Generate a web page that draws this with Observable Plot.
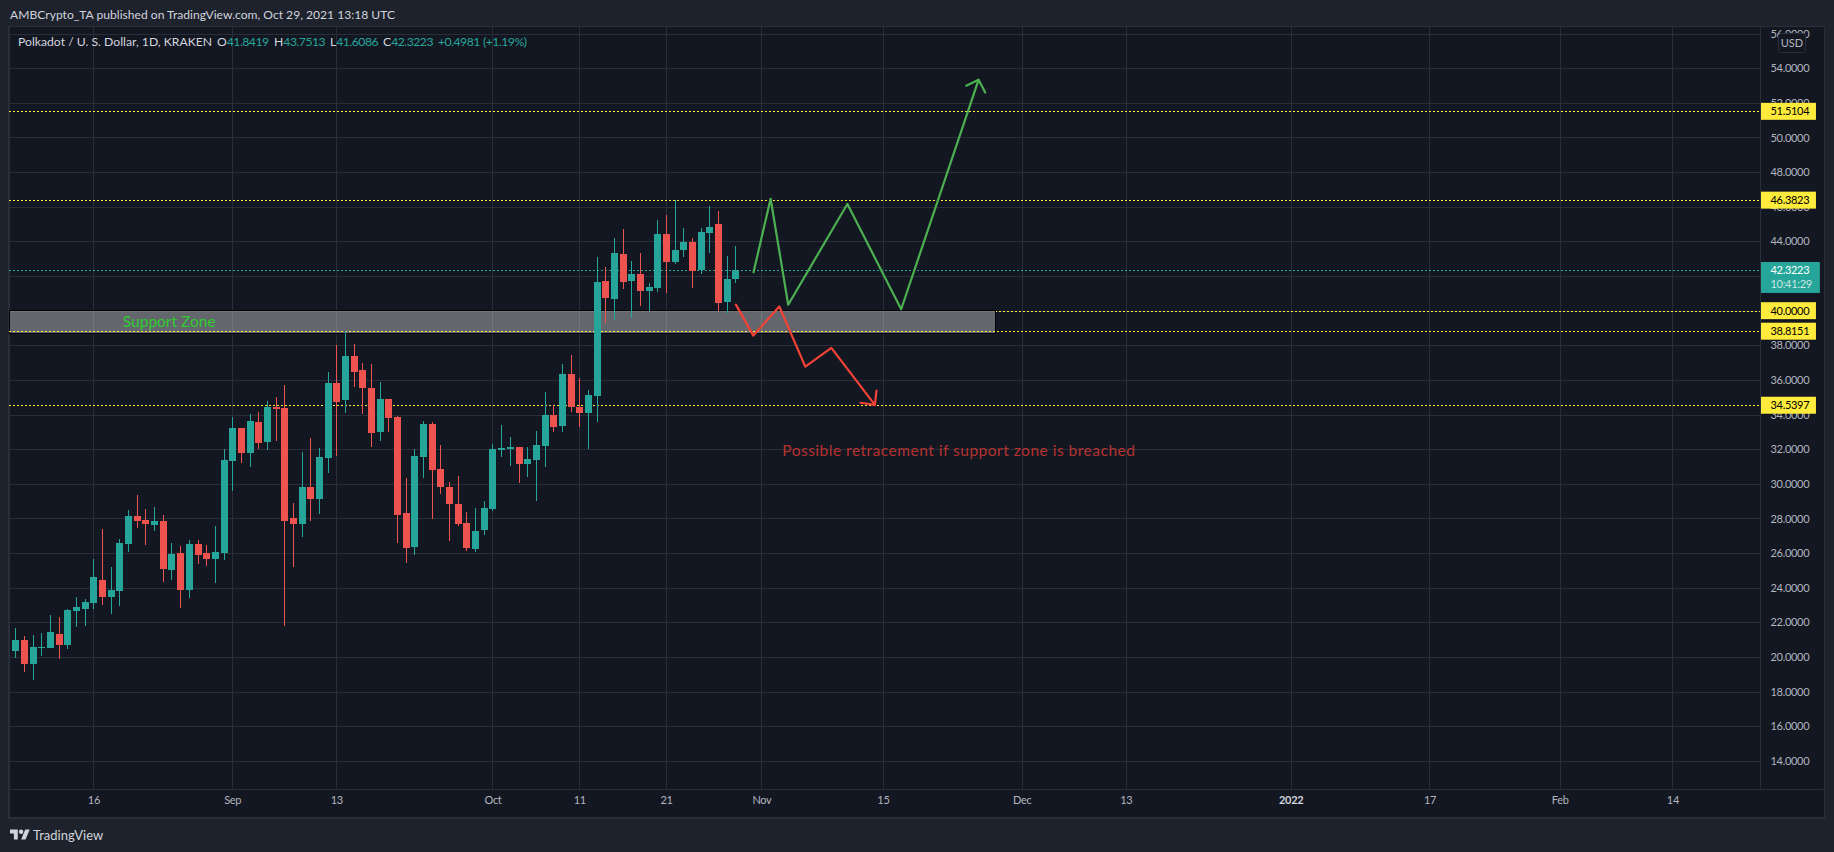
<!DOCTYPE html>
<html>
<head>
<meta charset="utf-8">
<script src="https://cdn.jsdelivr.net/npm/d3@7"></script>
<script src="https://cdn.jsdelivr.net/npm/@observablehq/plot@0.6"></script>
<style>
  html,body{margin:0;padding:0;background:#1e222d;overflow:hidden;width:1834px;height:852px;font-family:Lato,"Liberation Sans",sans-serif;}
  #panel{position:absolute;left:8px;top:26px;width:1814px;height:790px;background:#131722;border:1px solid #2a2e39;border-width:1px 1px 2px 2px;}
  #head{position:absolute;left:10px;top:0;height:26px;line-height:30px;font-size:12.1px;color:#d1d4dc;white-space:nowrap;}
  #chart{position:absolute;left:0;top:27px;}
  #legend{position:absolute;left:0;top:33px;height:18px;line-height:18px;font-size:12.2px;color:#d1d4dc;white-space:nowrap;}
  #legend span{position:absolute;top:0;}
  .up{color:#26a69a;letter-spacing:-0.5px;}
  #usd{position:absolute;left:1778px;top:33px;width:26px;height:18px;line-height:18px;text-align:center;font-size:11px;color:#b2b5be;background:#131722;border:1px solid #2a2e39;border-radius:3px;}
  #foot{position:absolute;left:10px;top:826px;height:18px;line-height:18px;color:#d1d4dc;font-size:13px;white-space:nowrap;}
  #foot svg{position:absolute;left:0;top:3px;}
  #foot b{position:absolute;left:23px;top:0;font-weight:400;}
</style>
</head>
<body>
<div id="panel"></div>
<div id="head">AMBCrypto_TA published on TradingView.com, Oct 29, 2021 13:18 UTC</div>
<div id="chart"></div>
<div id="legend">
  <span style="left:18px">Polkadot / U. S. Dollar, 1D, KRAKEN</span>
  <span style="left:217px">O<i class="up" style="font-style:normal">41.8419</i></span>
  <span style="left:274px">H<i class="up" style="font-style:normal">43.7513</i></span>
  <span style="left:330px">L<i class="up" style="font-style:normal">41.6086</i></span>
  <span style="left:383px">C<i class="up" style="font-style:normal">42.3223</i></span>
  <span class="up" style="left:438px">+0.4981</span>
  <span class="up" style="left:483px">(+1.19%)</span>
</div>
<div id="usd">USD</div>
<div id="foot">
  <svg width="20" height="11" viewBox="0 4 36 18"><path fill="#d1d4dc" d="M14 22H7V11H0V4h14v18zM28 22h-8l7.5-18h8L28 22z"/><circle fill="#d1d4dc" cx="20" cy="8" r="4"/></svg>
  <b>TradingView</b>
</div>
<script>
// Candles: day 0 = 16 Aug 2021, first candle 7 Aug, last candle 29 Oct
const opens  = [20.36,21.0,19.61,20.55,20.53,21.34,20.71,22.67,22.78,23.13,24.45,23.47,23.82,26.53,28.15,27.92,27.63,27.86,25.03,26.01,23.88,26.53,26.01,25.67,26.01,31.32,33.22,31.78,33.57,32.42,34.44,34.38,28.03,27.68,29.82,29.13,31.49,35.82,34.84,37.38,36.57,35.53,32.99,34.9,33.86,28.32,26.35,31.55,33.46,30.86,29.82,28.84,27.74,26.24,27.33,28.55,31.95,32.01,32.13,31.15,31.38,32.19,33.98,33.34,36.34,34.44,34.09,35.07,41.71,40.67,43.27,41.71,42.12,41.13,41.31,44.43,42.81,43.5,43.96,42.35,44.48,45.0,40.5,41.8419];
const highs  = [21.69,21.22,21.28,21.4,22.44,22.33,22.78,23.47,23.36,25.67,27.4,25.2,26.82,28.49,29.36,28.55,28.67,28.2,26.59,26.42,26.76,26.76,26.47,27.57,31.99,33.86,33.22,34.03,34.15,34.78,35.01,35.71,28.9,31.84,32.65,32.07,36.46,38.02,38.8,38.07,36.98,36.92,35.88,34.9,33.92,30.34,32.01,33.63,33.57,32.24,30.1,30.45,28.37,28.6,29.01,32.3,33.4,32.7,32.13,32.13,33.05,35.3,34.55,36.92,37.44,36.11,35.42,43.1,42.52,44.19,44.71,42.87,43.33,41.6,45.23,45.52,46.39,44.77,44.19,44.77,46.04,45.75,43.16,43.7513];
const lows   = [19.95,19.15,18.69,20.07,20.53,19.9,20.48,21.74,21.8,22.78,23.01,22.49,22.95,26.07,27.45,26.47,27.28,24.34,24.45,22.84,23.42,25.38,25.26,24.28,25.61,29.59,31.2,30.97,32.01,31.95,32.47,21.8,25.2,26.93,27.86,28.26,30.63,31.61,34.09,35.59,34.03,32.13,32.47,33.0,26.59,25.43,25.89,30.34,27.97,29.41,26.7,27.57,26.12,26.07,27.05,28.43,31.55,31.03,30.05,30.4,29.01,30.97,33.0,33.0,34.15,33.28,32.01,33.57,39.29,39.48,41.25,39.57,40.27,39.98,41.08,41.0,42.69,43.1,41.31,42.12,43.33,39.98,39.86,41.6086];
const closes = [21.0,19.61,20.6,20.6,21.46,20.71,22.72,22.9,23.19,24.63,23.47,23.88,26.59,28.15,27.86,27.69,27.86,25.09,25.95,23.88,26.53,25.9,25.67,26.07,31.38,33.22,31.78,33.63,32.36,34.42,34.32,27.86,27.68,29.82,29.13,31.55,35.82,34.73,37.38,36.46,35.53,32.94,34.9,33.8,28.2,26.3,31.61,33.46,30.8,29.82,28.84,27.68,26.3,27.28,28.6,32.01,32.07,32.13,31.15,31.44,32.24,33.98,33.28,36.34,34.44,34.09,35.13,41.65,40.73,43.33,41.65,42.12,41.13,41.37,44.43,42.81,43.5,43.96,42.29,44.54,44.83,40.44,41.83,42.3223];
const firstCandleDay = -9;

const priceTicks = [14,16,18,20,22,24,26,28,30,32,34,36,38,40,42,44,46,48,50,52,54,56];
const priceTickLabelsShown = [14,16,18,20,22,24,26,28,30,32,34,36,38,44,46,48,50,52,54,56];
const timeTickDays = [0,16,28,46,56,66,77,91,107,119,138,154,169,182];
const timeTickLabels = ["16","Sep","13","Oct","11","21","Nov","15","Dec","13","2022","17","Feb","14"];

const levelLabels = ["51.5104","46.3823","40.0000","38.8151","34.5397"];
const levels = levelLabels.map(Number);
const lastPrice = 42.3223;
const lastLabel = "42.3223";
const countdown = "10:41:29";

const zoneDayEnd = 103.96, zoneTop = 40, zoneBottom = 38.71;

const greenDays   = [76.03,78.0,80.03,86.85,93.05,101.97];
const greenPrices = [42.25,46.49,40.37,46.19,40.11,53.36];
const greenHeadDays   = [100.55,101.97,102.74];
const greenHeadPrices = [53.01,53.36,52.62];
const redDays   = [74.0,76.0,79.0,82.0,85.0,90.02];
const redPrices = [40.38,38.59,40.27,36.8,37.88,34.59];
const redHeadDays   = [88.37,90.02,90.21];
const redHeadPrices = [34.71,34.59,35.42];

const supportText = "Support Zone", supportDay = 3.33, supportPrice = 39.4;
const retraceText = "Possible retracement if support zone is breached", retraceDay = 79.34, retracePrice = 31.9;

const xStart = -9.73, xEnd = 192.1, yLow = 12.38, yHigh = 56.38;

const UP = "#26a69a", DOWN = "#ef5350", GRID = "#2a2e39", YEL = "#ffeb3b", AXIS = "#b2b5be";
const FONT = 'Lato, "Liberation Sans", sans-serif';
const DOTS = "2,2";
const CRISP = "crispEdges";

const candles = opens.map((o,i)=>({day:firstCandleDay+i,open:o,high:highs[i],low:lows[i],close:closes[i],color:closes[i]>=o?UP:DOWN}));
const path = (ds,ps)=>ds.map((d,i)=>({d,p:ps[i]}));
const labelWidth = 6.45;   // price-label width in days
const labelHalf = 0.49;    // price-label half height in price units

const chart = Plot.plot({
  width:1834, height:790,
  marginLeft:9, marginRight:74, marginTop:0, marginBottom:28,
  x:{type:"linear",domain:[xStart,xEnd],axis:null},
  y:{type:"linear",domain:[yLow,yHigh],axis:null},
  style:{background:"transparent",fontFamily:FONT,maxWidth:"none",letterSpacing:"-0.3px"},
  marks:[
    Plot.ruleY(priceTicks,{stroke:GRID,strokeWidth:1,shapeRendering:CRISP}),
    Plot.ruleX(timeTickDays,{stroke:GRID,strokeWidth:1,shapeRendering:CRISP}),
    Plot.ruleY(levels.filter(v=>v!==38.8151 && v!==40),{stroke:YEL,strokeWidth:1,strokeDasharray:DOTS,shapeRendering:CRISP}),
    Plot.ruleY([zoneTop],{x1:zoneDayEnd,x2:xEnd,stroke:YEL,strokeWidth:1,strokeDasharray:DOTS,shapeRendering:CRISP}),
    Plot.ruleY([lastPrice],{stroke:UP,strokeWidth:1,strokeDasharray:DOTS,shapeRendering:CRISP}),
    Plot.rect([{x1:xStart,x2:zoneDayEnd,y1:zoneBottom,y2:zoneTop}],{x1:"x1",x2:"x2",y1:"y1",y2:"y2",fill:"#ffffff",fillOpacity:0.34,stroke:"#000000",strokeWidth:1,shapeRendering:CRISP}),
    Plot.ruleY([38.8151],{stroke:YEL,strokeWidth:1,strokeDasharray:DOTS,shapeRendering:CRISP}),
    Plot.ruleX(candles,{x:"day",y1:"low",y2:"high",stroke:"color",strokeWidth:1,shapeRendering:CRISP}),
    Plot.ruleX(candles,{x:"day",y1:"open",y2:"close",stroke:"color",strokeWidth:7,shapeRendering:CRISP}),
    Plot.line(path(greenDays,greenPrices),{x:"d",y:"p",stroke:"#4caf50",strokeWidth:2.2,curve:"linear"}),
    Plot.line(path(greenHeadDays,greenHeadPrices),{x:"d",y:"p",stroke:"#4caf50",strokeWidth:2.2,curve:"linear"}),
    Plot.line(path(redDays,redPrices),{x:"d",y:"p",stroke:"#f44336",strokeWidth:2.2,curve:"linear"}),
    Plot.line(path(redHeadDays,redHeadPrices),{x:"d",y:"p",stroke:"#f44336",strokeWidth:2.2,curve:"linear"}),
    Plot.text([supportText],{x:()=>supportDay,y:()=>supportPrice,text:d=>d,textAnchor:"start",fill:"#2ecc2e",fontSize:15.5}),
    Plot.text([retraceText],{x:()=>retraceDay,y:()=>retracePrice,text:d=>d,textAnchor:"start",fill:"#b5322e",fontSize:15.5}),
    Plot.axisY(priceTickLabelsShown,{anchor:"right",tickSize:0,tickPadding:10,tickFormat:d=>d.toFixed(4),fill:AXIS,fontSize:11,label:null,textAnchor:"start"}),
    Plot.axisX(timeTickDays,{anchor:"bottom",tickSize:0,tickPadding:7,tickFormat:d=>timeTickLabels[timeTickDays.indexOf(d)],fill:AXIS,fontSize:11,label:null}),
    Plot.rect(levels,{x1:()=>xEnd,x2:()=>xEnd+labelWidth,y1:d=>d-labelHalf,y2:d=>d+labelHalf,fill:YEL}),
    Plot.rect([lastPrice],{x1:()=>xEnd,x2:()=>xEnd+labelWidth+0.45,y1:d=>d-labelHalf*2.65,y2:d=>d+labelHalf,fill:UP}),
    Plot.text(levelLabels,{x:()=>xEnd,y:d=>+d,dx:10,text:d=>d,textAnchor:"start",fill:"#000000",fontSize:11}),
    Plot.text([lastLabel],{x:()=>xEnd,y:d=>+d,dx:10,text:d=>d,textAnchor:"start",fill:"#ffffff",fontSize:11}),
    Plot.text([countdown],{x:()=>xEnd,y:()=>lastPrice,dx:10,dy:14,text:d=>d,textAnchor:"start",fill:"#c8e6e3",fontSize:11}),
    Plot.ruleX([xEnd],{stroke:GRID,strokeWidth:1,shapeRendering:CRISP}),
    Plot.ruleY([yLow],{stroke:GRID,strokeWidth:1,x1:xStart,x2:xEnd+7.3,shapeRendering:CRISP})
  ]
});
document.getElementById("chart").appendChild(chart);
const sel = d3.select(chart).selectAll("text");
sel.filter(function(){return this.textContent==="2022";}).attr("font-weight","bold").attr("fill","#d1d4dc");
sel.filter(function(){return this.textContent===retraceText;}).style("letter-spacing","0.5px");
sel.filter(function(){return this.textContent===supportText;}).style("letter-spacing","0");
</script>
</body>
</html>
